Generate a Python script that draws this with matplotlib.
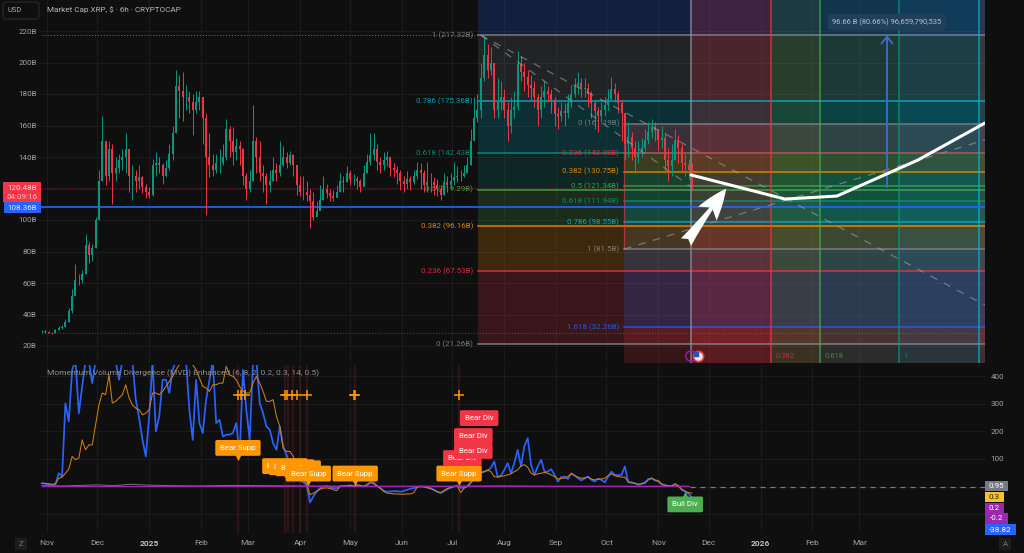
import numpy as np
import matplotlib
matplotlib.use("Agg")
import matplotlib.pyplot as plt
from matplotlib.patches import FancyBboxPatch, Rectangle, FancyArrowPatch

plt.rcParams['font.family'] = ['Roboto', 'DejaVu Sans']

# ---------- data ----------
closes = [29.5,29,28.5,28.3,30,31.5,32,35,42,52, 62,62,66,84,78,82,100,125,150,128,
 145,130,133,138,140,145,128,128,125,127, 121,118,116,135,136,135,128,133,142,155,
 185,182,178,178,175,170,175,178,165,140, 135,132,136,136,140,158,150,143,147,145,
 128,120,125,150,140,130,128,122,125,132, 130,135,140,136,141,135,122,118,118,116,
 112,102,106,113,120,117,115,114,118,125, 124,130,126,126,125,121,130,137,141,145,
 137,135,138,140,133,132,130,125,123,126, 124,128,132,130,122,124,124,122,120,116,
 124,122,125,127,128,128,130,135,150,165,170,190,
 205,195,200,170,175,178,170,160,170,172,
 199,194,191,186,184,178,170,178,182,180, 176,167,166,169,168,174,180,185,187,183,
 184,180,174,169,166,170,173,177,183,180, 174,168,148,153,146,140,143,146,151,156,
 159,157,151,152,138,134,138,151,146,136, 135,132,122]
highs = [30,30,29.5,29,31,32.5,33.5,37,44,56, 72,66,68,91,86,85,102,132,166,150,
 150,148,140,142,145,155,140,135,132,135, 128,123,121,139,143,140,136,138,148,160,
 195,192,194,186,182,180,182,182,178,168, 155,142,142,145,148,164,160,159,152,150,
 146,130,132,173,153,150,135,130,132,140, 136,150,147,143,144,142,131,128,128,125,
 120,118,112,122,128,123,120,119,122,130, 128,134,132,129,128,126,135,142,155,155,
 148,140,143,144,140,136,134,132,128,131, 128,132,137,136,132,137,130,127,126,122,
 130,128,130,137,134,132,135,140,158,178,180,200,
 217,212,210,200,190,188,183,175,178,182,
 207,204,200,195,192,188,180,185,188,185, 183,178,172,175,174,180,186,190,194,190,
 190,187,182,176,172,175,178,183,191,187, 182,176,168,162,156,150,150,152,158,162,
 164,162,158,160,156,146,148,158,154,148, 142,139,136]
lows = [28.5,28.5,28,27.8,28.5,30,31,32,35,41, 56,59,60,66,73,74,82,100,125,122,
 125,110,125,130,132,130,118,113,118,120, 117,114,114,115,128,130,123,127,132,138,
 155,165,163,170,168,154,168,170,148,103, 127,128,130,130,135,138,140,135,138,135,
 122,113,118,125,130,125,118,110,118,125, 125,128,134,133,135,128,116,115,113,112,
 95,100,103,108,113,114,112,112,115,118, 118,124,122,122,120,118,122,130,135,138,
 132,130,132,134,128,127,123,119,118,120, 119,123,126,120,118,118,118,116,115,113,
 116,118,120,122,124,125,127,130,135,158,162,165,
 188,190,192,165,165,170,165,150,155,165,
 170,188,182,178,176,172,160,165,172,175, 168,160,158,163,160,165,172,178,180,178,
 178,172,165,158,156,162,166,170,176,175, 168,150,138,140,138,130,136,140,144,148,
 152,150,144,146,130,125,128,138,136,130, 128,126,120]

mvd = [12,10,7,6,6,48,36,302,236,423, 455,266,363,455,455,375,455,455,455,455,
 455,455,455,387,455,455,455,455,315,248, 169,109,254,455,200,254,387,387,339,423,
 455,455,455,455,278,169,387,230,194,315, 387,455,230,242,181,188,188,194,230,109,
 423,278,169,455,455,303,266,218,206,157, 133,218,145,115,73,48,36,24,15,6,
 -58,-36,-18,-6,0,2,-2,-6,-6,2, 2,2,4,2,5,2,0,5,15,15,
 2,-6,-15,-19,-18,-17,-17,-19,-16,-12, -8,-6,-2,0,-1,-2,-6,-12,-19,-24,
 -17,-10,-4,0,2,-5,-4,2,15,30, 42,51,54,58,67,91,36,39,60,85,
 48,85,133,73,148,175,79,42,73,97, 54,54,63,42,18,34,36,27,48,40,
 30,22,30,36,24,18,28,24,15,36, 54,42,41,42,73,15,15,12,6,10,
 15,27,30,22,18,7,4,2,2,8, 2,-12,-19,-27,-38.82]
ma = [12,11,10,8,10,30,34,48,63,109, 97,103,169,133,151,151,224,296,339,333,
 405,303,309,321,333,369,321,296,284,278, 260,266,278,339,339,333,345,363,381,399,
 423,442,448,442,448,442,423,393,363,357, 345,369,369,375,375,436,405,399,387,363,
 345,339,339,375,399,375,345,309,309,315, 254,218,139,127,127,109,73,42,24,10,
 -30,-24,-18,-10,-6,-5,-7,-12,-15,0, 2,2,4,2,5,4,0,6,15,10,
 2,-6,-18,-24,-25,-27,-27,-28,-28,-27, -27,-22,-2,0,-1,-5,-8,-13,-19,-22,
 -15,-7,-4,0,2,-22,-6,0,12,30, 42,48,54,60,54,36,34,36,39,42,
 46,54,60,75,79,70,48,42,46,48, 51,48,42,36,27,30,30,36,46,40,
 34,30,31,34,27,24,27,27,30,39, 46,39,36,34,34,17,13,11,8,10,
 12,24,30,24,21,10,5,2,2,10, 2,-10,-17,-22,-24]
osc_days = [-3,10,20,30,40,50,60,75,90,110,130,150,180,210,240,270,300,340,383]
osc_vals  = [3,2,4,6,3,8,5,3,2,4,3,2,1,1,1,2,1,1,0.95]

fib_a_levels = [1, 0.786, 0.618, 0.5, 0.382, 0.236, 0]
fib_a_prices = [217.32, 175.36, 142.43, 119.29, 96.16, 67.53, 21.26]
fib_b_levels = [0, 0.236, 0.382, 0.5, 0.618, 0.786, 1, 1.618]
fib_b_prices = [161.19, 142.38, 130.75, 121.34, 111.94, 98.55, 81.5, 32.26]
fib_time_days = [384.5, 432.3, 461.5, 508.7, 556.4]
fib_time_labels = ['', '0.382', '0.618', '1', '']

forecast_days = [384.5, 440.6, 471.6, 520, 560]
forecast_vals = [128.6, 113.3, 115.2, 138.1, 161.6]

price_ticks = [20,40,60,80,100,120,140,160,180,200,220]
price_labels = ['20B','40B','60B','80B','100B','','140B','160B','180B','200B','220B']
mvd_ticks = [-100,0,100,200,300,400]
month_days = [0,30,61,92,120,151,181,212,242,273,304,334,365,395,426,457,485]
month_names = ['Nov','Dec','2025','Feb','Mar','Apr','May','Jun','Jul','Aug','Sep','Oct','Nov','Dec','2026','Feb','Mar']

plus_days = [114,116,118,142,143.5,146,149,155,183,184,246]
band_days = [114,142,144,147,151,155,184,246]
supp_labels = [(114,140,92),(142,74,30),(146,70,30),(150,66,30),(156,47,4),(184,47,4),(246,47,4)]
div_labels = [(248,103),(254.5,129),(254.5,183),(258,248)]
bull_label = (381,-65,-17)

# ---------- colours ----------
BG='#0f0f0f'; GRID='#1b1b1b'; TXT='#a2a2a2'
RED='#f23645'; ORG='#ff9800'; GRN='#4caf50'; TEAL='#089981'; CYAN='#00bcd4'; GRAY='#787b86'; BLUE='#2962ff'
a_cols=[GRAY,CYAN,TEAL,GRN,ORG,RED,GRAY]
b_cols=[GRAY,RED,ORG,GRN,TEAL,CYAN,GRAY,BLUE]
t_cols=['#9a9ca8',RED,GRN,TEAL,CYAN]

W,H=1024,553
fig=plt.figure(figsize=(W/100,H/100),dpi=100,facecolor=BG)
def axpos(l,t,r,b): return [l/W,1-b/H,(r-l)/W,(b-t)/H]
ax=fig.add_axes(axpos(40,0,985,363),facecolor=BG)
ax2=fig.add_axes(axpos(40,365,985,533),facecolor=BG)
XL=(-4.18,560)
YL=(20+(346-363)/1.575,20+346/1.575)
ax.set_xlim(XL); ax.set_ylim(YL)
ax2.set_xlim(XL); ax2.set_ylim((486.5-533)/0.2757,(486.5-365)/0.2757)
for a in (ax,ax2):
    for s in a.spines.values(): s.set_visible(False)
    a.set_xticks(month_days)
    a.grid(True,color=GRID,lw=0.8)
    a.set_axisbelow(True)
    a.tick_params(length=0)

ax.set_yticks(price_ticks); ax.set_yticklabels(price_labels,color=TXT,fontsize=5.8)
ax.tick_params(axis='y',pad=2.5)
ax.set_xticklabels([])
ax2.yaxis.tick_right()
ax2.set_yticks(mvd_ticks); ax2.set_yticklabels(['','','100','200','300','400'],color=TXT,fontsize=5.8)
ax2.tick_params(axis='y',pad=4)
ax2.set_xticks(month_days)
ax2.set_xticklabels(month_names,color=TXT,fontsize=6)
for lab,n in zip(ax2.get_xticklabels(),month_names):
    if n.isdigit(): lab.set_fontweight('bold'); lab.set_color('#c0c0c0')
ax2.tick_params(axis='x',pad=5)

# ---------- fib fills ----------
A0=257.3
B0=344.5
TOP=YL[1]; BOT=YL[0]
al=.19
ax.fill_between([A0,560],fib_a_prices[0],TOP,color=BLUE,alpha=.20,lw=0,zorder=1)
for i in range(6):
    c=GRAY if i==0 else a_cols[i]
    ax.fill_between([A0,560],fib_a_prices[i+1],fib_a_prices[i],color=c,alpha=al,lw=0,zorder=1)
for i in range(7):
    ax.fill_between([B0,560],fib_b_prices[i+1],fib_b_prices[i],color=b_cols[i+1],alpha=al,lw=0,zorder=1)
ax.fill_between([B0,560],BOT,fib_b_prices[-1],color=RED,alpha=.17,lw=0,zorder=1)
for i in range(4):
    ax.fill_between([fib_time_days[i],fib_time_days[i+1]],BOT,TOP,color=t_cols[i+1],alpha=.19,lw=0,zorder=1)
ax.fill_between([fib_time_days[4],560],BOT,TOP,color=GRAY,alpha=.25,lw=0,zorder=1)

for p,c in zip(fib_a_prices,a_cols):
    ax.plot([A0,560],[p,p],color=c if c!=GRAY else '#8d8f99',lw=1.2,alpha=.75,zorder=2)
for p,c in zip(fib_b_prices,b_cols):
    ax.plot([B0,560],[p,p],color=c if c!=GRAY else '#8d8f99',lw=1.1,alpha=.75,zorder=2)
for d,c in zip(fib_time_days,t_cols):
    ax.plot([d,d],[BOT,TOP],color=c,lw=1.1,alpha=.75,zorder=2)
ax.plot([B0,B0],[fib_b_prices[6],fib_b_prices[0]],color=RED,lw=.9,alpha=.6,zorder=3)

for l,p,c in zip(fib_a_levels,fib_a_prices,a_cols):
    ax.text(A0-3,p,f'{l} ({p:.2f}B)',color=c if c!=GRAY else '#8a8a8a',alpha=.85,fontsize=5.7,ha='right',va='center',zorder=4)
for l,p,c in zip(fib_b_levels,fib_b_prices,b_cols):
    ax.text(B0-3,p,f'{l} ({p:g}B)',color=c if c!=GRAY else '#8a8a8a',alpha=.85,fontsize=5.7,ha='right',va='center',zorder=4)
for d,t,c in zip(fib_time_days,fib_time_labels,t_cols):
    ax.text(d+2.5,13.6,t,color=c,alpha=.7,fontsize=5.5,ha='left',va='center',zorder=6)

ax.plot([XL[0]+1,A0],[217.32,217.32],color='#777',lw=.7,ls=(0,(1,2)),zorder=2)
ax.plot([XL[0]+1,560],[28.3,28.3],color='#888',lw=.6,ls=(0,(1,2.5)),alpha=.7,zorder=2)
ax.plot([XL[0]+1,384],[120.48,120.48],color=RED,lw=.6,ls=(0,(1,2)),alpha=.6,zorder=2)
ax.axhline(108.36,color=BLUE,lw=1.2,zorder=4)

# candles
days=-3+2*np.arange(len(closes))
c=np.array(closes); h=np.array(highs); l=np.array(lows)
o=np.r_[c[0],c[:-1]]
cols=np.where(c>=o,TEAL,RED)
ax.vlines(days,l,h,colors=cols,lw=.7,zorder=5)
ax.vlines(days,np.minimum(o,c),np.maximum(o,c),colors=cols,lw=1.4,zorder=5)

# dashed channels
ds=dict(color='#a0a0a0',lw=.9,ls=(0,(6,6)),alpha=.6,zorder=5)
ax.plot([259,560],[217.3,46],**ds)
ax.plot([259,384.5],[217.3,121],**ds)
ax.plot([344.5,560],[81.5,150.8],**ds)

# forecast
ax.plot(forecast_days,forecast_vals,color='white',lw=2.2,zorder=8,solid_capstyle='round')
ax.add_patch(FancyArrowPatch((381.5,86),(405.5,120),arrowstyle='fancy,head_length=.75,head_width=.55,tail_width=.3',
                             color='white',lw=0,zorder=8,mutation_scale=30,shrinkA=0,shrinkB=0))
# measure arrow
ax.annotate('',xy=(501.5,217.3),xytext=(501.5,121),
            arrowprops=dict(arrowstyle='->,head_length=.5,head_width=.4',color='#3a70c8',lw=1.3,shrinkA=0,shrinkB=0),zorder=7)
ax.text(501.5,225.7,'96.66 B (80.66%) 96,659,790,535',color='#a9c6dc',fontsize=5.45,ha='center',va='center',zorder=9,
        bbox=dict(boxstyle='round,pad=0.6',fc='#1f4058',ec='none'))
# event icons
ax.scatter([384.5],[13.6],s=55,facecolor='none',edgecolor='#8e24aa',lw=1,zorder=8)
ax.scatter([388.5],[13.6],s=55,facecolor='#e8e8f0',edgecolor=RED,lw=1.2,zorder=9)
ax.scatter([387.6],[14.7],s=8,c='#2950c0',marker='s',zorder=10)

# ---------- indicator ----------
for d in band_days:
    ax2.axvline(d,color=RED,lw=1.6,alpha=.14,zorder=1)
d2=-3+2*np.arange(len(mvd))
ax2.plot(d2,mvd,color=BLUE,lw=1.25,zorder=4,solid_joinstyle='round')
ax2.plot(d2,ma,color='#cf7f10',lw=.75,zorder=4.5)
ax2.plot(osc_days,osc_vals,color='#777',lw=.7,zorder=3)
ax2.plot([-3,383],[0.2,0.2],color='#9c27b0',lw=.8,zorder=5)
ax2.plot([384,560],[0,0],color=GRAY,lw=.9,ls=(0,(4,4)),zorder=3)
ax2.plot(plus_days,[332]*len(plus_days),ls='none',marker='+',ms=7.5,mew=1.1,color=ORG,zorder=6)
fig.text(47/W,1-373.5/H,'Momentum Volume Divergence (MVD) Enhanced (6, 8, 2, 0.2, 0.3, 14, 0.5)',color='#8f8f8f',fontsize=6.0,va='center',zorder=10)

box=dict(boxstyle='round,pad=0.62,rounding_size=0.2',ec='none')
def tag(x,y,text,fc,tip=None):
    ax2.text(x,y,text,color='white',fontsize=5.7,ha='center',va='center',zorder=7,bbox=dict(box,fc=fc))
    if tip is not None:
        ax2.scatter([x],[tip+(14 if tip<y else -14)],marker='v' if tip<y else '^',s=28,c=fc,lw=0,zorder=7)
for x,y,t in supp_labels: tag(x,y,'Bear Supp',ORG,t)
for x,y in div_labels: tag(x,y,'Bear Div',RED)
tag(bull_label[0],bull_label[1],'Bull Div',GRN,bull_label[2])

# ---------- scale tags ----------
def ftag(l,t,r,b,text,fc,tc='white',fs=5.8):
    fig.patches.append(Rectangle((l/W,1-b/H),(r-l)/W,(b-t)/H,transform=fig.transFigure,fc=fc,ec='none',zorder=20))
    fig.text((l+r)/2/W,1-(t+b)/2/H,text,color=tc,fontsize=fs,ha='center',va='center',zorder=21)
ftag(3,182,41,202,'','#f23645')
fig.text(22/W,1-187.5/H,'120.48B',color='#ffd9dc',fontsize=5.8,ha='center',va='center',zorder=21)
fig.text(22/W,1-197/H,'04:09:16',color='#ffc2c7',fontsize=5.8,ha='center',va='center',zorder=21)
ftag(4,202,41,213,'108.36B','#2962ff','#dbe5ff',5.8)
ftag(985,481,1008,491,'0.95','#787b86')
ftag(985,492,1004,502,'0.3','#f9c02e','#222')
ftag(985,503,1004,513,'0.2','#9c27b0')
ftag(985,513,1008,524,'-0.2','#9c27b0')
ftag(985,524,1016,535,'-38.82','#2962ff')
fig.patches.append(FancyBboxPatch((3/W,1-19/H),36/W,17/H,transform=fig.transFigure,boxstyle='round,pad=0,rounding_size=0.004',
                                  fc=BG,ec='#2a2a2a',lw=.8,zorder=20))
fig.text(14.5/W,1-10.5/H,'USD',color='#aaaaaa',fontsize=5.4,ha='center',va='center',zorder=21)
fig.text(47/W,1-10/H,'Market Cap XRP, $ · 6h · CRYPTOCAP',color='#b5b5b5',fontsize=5.9,va='center',zorder=21)
for x,t in ((21,'Z'),(1005,'A')):
    fig.patches.append(Rectangle(((x-6)/W,1-550/H),12/W,12/H,transform=fig.transFigure,fc='#1d1d1d',ec='none',zorder=20))
    fig.text(x/W,1-544/H,t,color='#777',fontsize=5.5,ha='center',va='center',zorder=21)

fig.savefig('out.png',dpi=100,facecolor=BG)
